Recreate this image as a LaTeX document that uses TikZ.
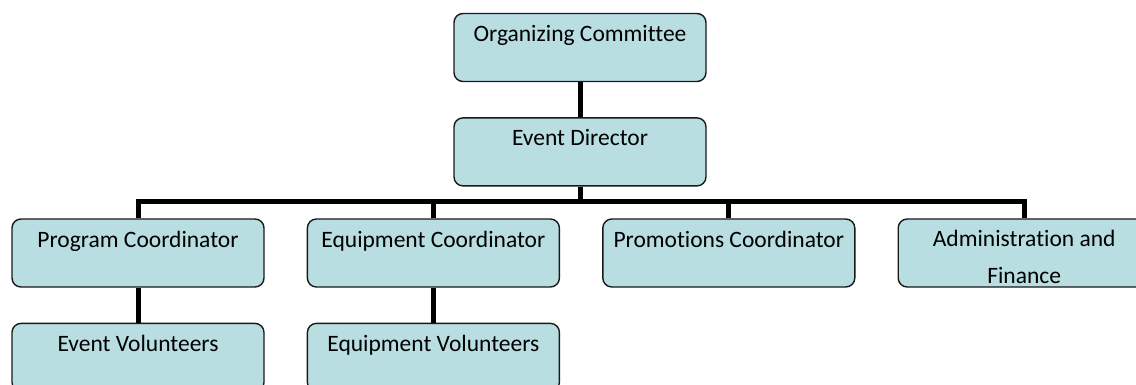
\documentclass[tikz,border=0pt]{standalone}
\usepackage{fontspec}
\setmainfont[Ligatures={TeX,NoCommon}]{Carlito}
\usetikzlibrary{positioning}
\definecolor{boxfill}{RGB}{184,222,226}
\definecolor{boxline}{RGB}{25,25,25}
\newcommand{\boxstrut}{\rule{0pt}{25pt}}

\begin{document}
\begin{tikzpicture}[x=1pt,y=-1pt,
    orgbox/.style={draw=boxline, line width=1.4pt, fill=boxfill, rectangle, rounded corners=9pt,
      minimum width=252pt, minimum height=68pt, inner sep=0pt, align=center,
      font=\fontsize{23.5}{37}\selectfont},
    link/.style={draw=black, line width=5pt}]
    \clip (0,0) rectangle (1136,385);

    % Top of the chart
    \node[orgbox] (committee) at (580,47.5) {\boxstrut Organizing Committee\\\mbox{}};
    \node[orgbox, below=35pt of committee] (director) {\boxstrut Event Director\\\mbox{}};

    % Coordinators
    \node[orgbox] (program) at (138,253) {\boxstrut Program Coordinator\\\mbox{}};
    \node[orgbox, right=42pt of program] (equipment) {\boxstrut Equipment Coordinator\\\mbox{}};
    \node[orgbox, right=42pt of equipment] (promotions) {\boxstrut Promotions Coordinator\\\mbox{}};
    \node[orgbox, right=42pt of promotions] (admin) {\boxstrut Administration and\\Finance};

    % Volunteers
    \node[orgbox, below=35pt of program] (eventvol) {\boxstrut Event Volunteers\\\mbox{}};
    \node[orgbox, below=35pt of equipment] (equipvol) {\boxstrut Equipment Volunteers\\\mbox{}};

    % Connecting lines
    \coordinate (bar) at (0,202);
    \draw[link] (committee) -- (director);
    \draw[link] (director) -- (director |- bar);
    \draw[link] (program.north) -- (program.north |- bar) -| (admin.north);
    \draw[link] (equipment.north) -- (equipment.north |- bar);
    \draw[link] (promotions.north) -- (promotions.north |- bar);
    \draw[link] (program) -- (eventvol);
    \draw[link] (equipment) -- (equipvol);
\end{tikzpicture}
\end{document}
